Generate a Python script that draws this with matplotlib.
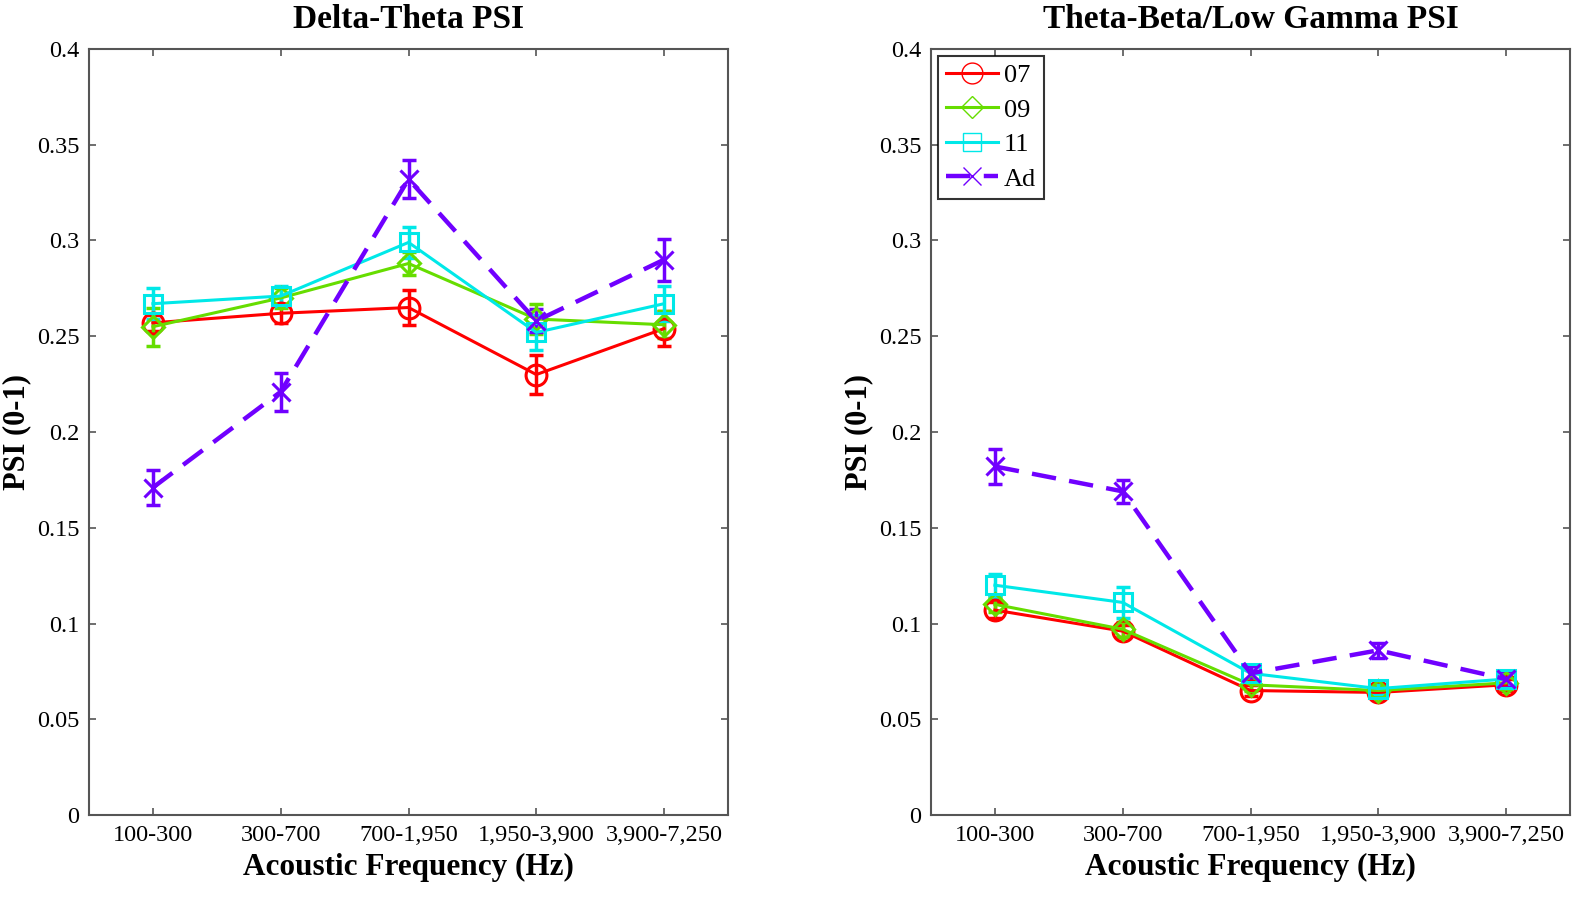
import matplotlib
matplotlib.use("Agg")
import matplotlib.pyplot as plt
import numpy as np

plt.rcParams['font.family'] = ['Liberation Serif', 'DejaVu Serif']

# Frequency bands on the x axis
bands = ['100-300', '300-700', '700-1,950', '1,950-3,900', '3,900-7,250']
groups = ['07', '09', '11', 'Ad']

# Delta-Theta PSI (mean, error)
dt_07 = [0.257, 0.262, 0.265, 0.230, 0.254]
dt_07_err = [0.004, 0.005, 0.009, 0.010, 0.009]
dt_09 = [0.255, 0.270, 0.288, 0.259, 0.256]
dt_09_err = [0.010, 0.005, 0.006, 0.008, 0.007]
dt_11 = [0.267, 0.271, 0.299, 0.252, 0.267]
dt_11_err = [0.008, 0.005, 0.008, 0.009, 0.009]
dt_ad = [0.171, 0.221, 0.332, 0.258, 0.290]
dt_ad_err = [0.009, 0.010, 0.010, 0.006, 0.011]

# Theta-Beta/Low Gamma PSI (mean, error)
tb_07 = [0.107, 0.096, 0.065, 0.064, 0.068]
tb_07_err = [0.004, 0.003, 0.003, 0.003, 0.003]
tb_09 = [0.110, 0.097, 0.068, 0.065, 0.069]
tb_09_err = [0.004, 0.004, 0.003, 0.003, 0.003]
tb_11 = [0.120, 0.111, 0.074, 0.066, 0.071]
tb_11_err = [0.006, 0.008, 0.004, 0.003, 0.003]
tb_ad = [0.182, 0.169, 0.074, 0.086, 0.071]
tb_ad_err = [0.009, 0.006, 0.004, 0.004, 0.004]

colors = ['#ff0000', '#66dd00', '#00e8e8', '#7000ff']
markers = ['o', 'D', 's', 'x']
styles = ['-', '-', '-', '--']
msizes = [15, 11, 13, 13]

fig = plt.figure(figsize=(15.74, 8.98), dpi=100)
ax1 = fig.add_axes([89 / 1574, 1 - 815 / 898, (728 - 89) / 1574, (815 - 49) / 898])
ax2 = fig.add_axes([931 / 1574, 1 - 815 / 898, (1570 - 931) / 1574, (815 - 49) / 898])

x = np.arange(1, len(bands) + 1)


def draw(ax, series, title):
    handles = []
    for (vals, errs), c, m, ls, ms, lab in zip(series, colors, markers, styles, msizes, groups):
        lw = 3.2 if ls == '--' else 2.2
        ax.errorbar(x, vals, yerr=errs, color=c, ecolor=c, elinewidth=2.5,
                    capsize=5, capthick=2.5, linestyle='none', zorder=2)
        h, = ax.plot(x, vals, color=c, linestyle=ls, linewidth=lw, marker=m,
                     markersize=ms, markerfacecolor='none', markeredgecolor=c,
                     markeredgewidth=2.2, label=lab, zorder=3,
                     dashes=(5.5, 3) if ls == '--' else (None, None))
        handles.append(h)
    ax.set_xlim(0.5, 5.5)
    ax.set_ylim(0, 0.4)
    ax.set_xticks(x)
    ax.set_xticklabels(bands)
    ax.set_yticks(np.arange(0, 0.41, 0.05))
    ax.set_yticklabels(['0', '0.05', '0.1', '0.15', '0.2', '0.25', '0.3', '0.35', '0.4'])
    ax.tick_params(direction='in', top=True, right=True, length=5, width=1.2,
                   labelsize=17.5, color='#555555', pad=7)
    for sp in ax.spines.values():
        sp.set_color('#555555')
        sp.set_linewidth(1.5)
    ax.set_xlabel('Acoustic Frequency (Hz)', fontsize=22.5, fontweight='bold', labelpad=5)
    ax.set_ylabel('PSI (0-1)', fontsize=22, fontweight='bold', labelpad=4)
    ax.set_title(title, fontsize=24, fontweight='bold', pad=15)
    return handles


draw(ax1, [(dt_07, dt_07_err), (dt_09, dt_09_err), (dt_11, dt_11_err), (dt_ad, dt_ad_err)],
     'Delta-Theta PSI')
hs = draw(ax2, [(tb_07, tb_07_err), (tb_09, tb_09_err), (tb_11, tb_11_err), (tb_ad, tb_ad_err)],
          'Theta-Beta/Low Gamma PSI')

leg = ax2.legend(handles=hs, loc='upper left', fontsize=19, frameon=True, fancybox=False,
                 edgecolor='black', borderaxespad=0.25, handlelength=2.0, handletextpad=0.2,
                 labelspacing=0.42, borderpad=0.3, markerscale=1.0)
leg.get_frame().set_linewidth(1.5)
for lh in leg.get_lines():
    lh.set_markeredgewidth(1.0)

fig.savefig('out.png', dpi=100)
